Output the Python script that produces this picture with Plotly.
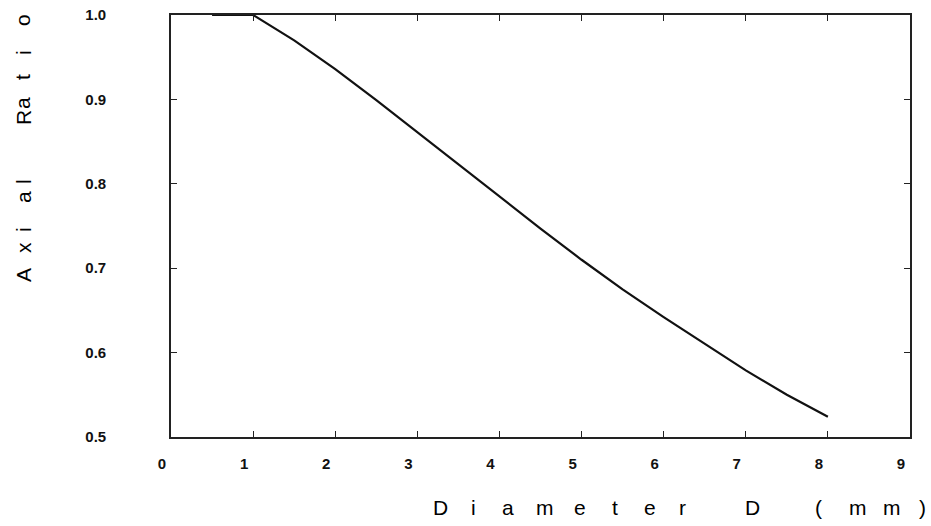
import plotly.graph_objects as go

diameter = [0.5, 1.0, 1.5, 2.0, 2.5, 3.0, 3.5, 4.0, 4.5, 5.0, 5.5, 6.0, 6.5, 7.0, 7.5, 8.0]
axial_ratio = [1.0, 1.0, 0.970, 0.936, 0.899, 0.861, 0.822, 0.784, 0.747, 0.710,
               0.675, 0.642, 0.610, 0.579, 0.550, 0.524]

x_ticks = list(range(0, 10))
y_ticks = [0.5, 0.6, 0.7, 0.8, 0.9, 1.0]
y_tick_text = ["0.5", "0.6", "0.7", "0.8", "0.9", "1.0"]

x_title_chars = ["D", "i", "a", "m", "e", "t", "e", "r", "D", "(", "m", "m", ")"]
x_title_px = [440, 473, 508, 545, 580, 615, 650, 682, 752, 818, 858, 892, 922]
y_title_chars = ["A", "x", "i", "a", "l", "R", "a", "t", "i", "o"]
y_title_py = [275, 248, 230, 197, 182, 118, 103, 77, 53, 20]

W, H = 931, 526
L, R, T, B = 171, 21, 15, 89
pw, ph = W - L - R, H - T - B

font = dict(family="Liberation Sans, Arial, sans-serif", color="#000")

fig = go.Figure()
fig.add_trace(go.Scatter(x=diameter, y=axial_ratio, mode="lines",
                         line=dict(color="#111", width=2.2), showlegend=False))

annotations = []
for ch, px in zip(x_title_chars, x_title_px):
    annotations.append(dict(text=ch, x=(px - L) / pw, y=-(508 - T - ph) / ph,
                            xref="paper", yref="paper", showarrow=False,
                            xanchor="center", yanchor="middle",
                            font=dict(size=21, **font)))
for ch, py in zip(y_title_chars, y_title_py):
    annotations.append(dict(text=ch, x=(23 - L) / pw, y=1 - (py - T) / ph,
                            xref="paper", yref="paper", showarrow=False,
                            xanchor="center", yanchor="middle", textangle=-90,
                            font=dict(size=21, **font)))

axis_common = dict(showgrid=False, zeroline=False, showline=True, linecolor="#222",
                   linewidth=1.6, mirror="ticks", ticks="inside", ticklen=6,
                   tickwidth=1.4, tickcolor="#222", automargin=False,
                   tickfont=dict(size=15, family="Liberation Sans, Arial, sans-serif",
                                 color="#111", weight="bold"))

fig.update_layout(
    width=W, height=H, margin=dict(l=L, r=R, t=T, b=B, autoexpand=False),
    plot_bgcolor="white", paper_bgcolor="white",
    xaxis=dict(range=[0, 9], tickvals=x_ticks, ticklabelshift=-9,
               ticklabelstandoff=12, **axis_common),
    yaxis=dict(range=[0.5, 1.0], tickvals=y_ticks, ticktext=y_tick_text,
               ticklabelstandoff=60, **axis_common),
    annotations=annotations,
)

fig.write_html("out.html")
